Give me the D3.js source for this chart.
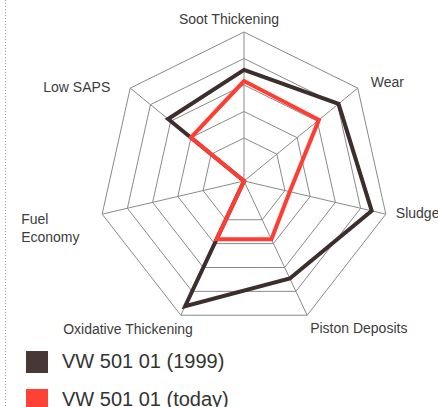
<!DOCTYPE html>
<html>
<head>
<meta charset="utf-8">
<script src="https://cdn.jsdelivr.net/npm/d3@7"></script>
<style>
  body { margin: 0; background: #fff; }
  svg text { font-family: "Liberation Sans", Arial, sans-serif; fill: #3c3c3c; }
</style>
</head>
<body>
<script>
const axes = ["Soot Thickening", "Wear", "Sludge", "Piston Deposits", "Oxidative Thickening", "Fuel Economy", "Low SAPS"];
const vw1999 = [3.57, 4.05, 4.44, 3.46, 4.62, 0, 3.13];
const vwToday = [3.15, 3.08, 1.19, 1.82, 1.82, 0, 2.0];
const levels = [1, 2, 3, 4, 5];
const seriesNames = ["VW 501 01 (1999)", "VW 501 01 (today)"];
const colors = ["#3d2d2b", "#ff3d33"];

const width = 438, height = 407;
const cx = 244, cy = 181;
const kx = 145.5 / 149;

const svg = d3.select("body").append("svg")
    .attr("width", width)
    .attr("height", height);

// dotted rule on the left
svg.append("line")
    .attr("x1", 5.5).attr("x2", 5.5)
    .attr("y1", 0).attr("y2", height)
    .style("stroke", "#999")
    .style("stroke-width", 1)
    .style("stroke-dasharray", "1,2");

const r = d3.scaleLinear().domain([0, 1, 5]).range([0, 43, 149]);
const angle = d3.scalePoint().domain(d3.range(axes.length + 1)).range([0, 2 * Math.PI]);

function pt(i, v) {
  const a = angle(i);
  return [cx + r(v) * Math.sin(a) * kx, cy - r(v) * Math.cos(a)];
}

const line = d3.line().x(d => d[0]).y(d => d[1]).curve(d3.curveLinearClosed);

// rings
svg.append("g").selectAll("path")
  .data(levels)
  .join("path")
    .attr("d", lv => line(axes.map((a, i) => pt(i, lv))))
    .style("fill", "none")
    .style("stroke", "#8a8a8a")
    .style("stroke-width", 1);

// spokes
svg.append("g").selectAll("line")
  .data(axes)
  .join("line")
    .attr("x1", cx).attr("y1", cy)
    .attr("x2", (d, i) => pt(i, 5)[0])
    .attr("y2", (d, i) => pt(i, 5)[1])
    .style("stroke", "#8a8a8a")
    .style("stroke-width", 1);

// series
[vw1999, vwToday].forEach((vals, s) => {
  svg.append("path")
    .attr("d", line(vals.map((v, i) => pt(i, v))))
    .style("fill", "none")
    .style("stroke", colors[s])
    .style("stroke-width", 4)
    .style("stroke-linejoin", "miter");
});

// axis labels (offsets from outer vertex)
const labelOff = [[-15, -8, "middle"], [13, -1, "start"], [10, 4, "start"], [3, 18, "start"],
                  [12, 19, "end"], [-81, 10, "start"], [-20, 4, "end"]];
axes.forEach((name, i) => {
  const p = pt(i, 5);
  const o = labelOff[i];
  const t = svg.append("text")
    .attr("x", p[0] + o[0])
    .attr("y", p[1] + o[1])
    .attr("text-anchor", o[2])
    .style("font-size", "14px");
  if (name === "Fuel Economy") {
    t.append("tspan").text("Fuel");
    t.append("tspan").attr("x", p[0] + o[0]).attr("dy", 18).text("Economy");
  } else {
    t.text(name);
  }
});

// legend
const legend = svg.append("g").selectAll("g")
  .data(seriesNames)
  .join("g")
    .attr("transform", (d, i) => `translate(26, ${351 + i * 38})`);
legend.append("rect")
    .attr("width", 22).attr("height", 22)
    .style("fill", (d, i) => i === 0 ? "#473836" : "#ff4136");
legend.append("text")
    .attr("x", 36).attr("y", 17)
    .style("font-size", "20px")
    .style("fill", "#333")
    .text(d => d);
</script>
</body>
</html>
